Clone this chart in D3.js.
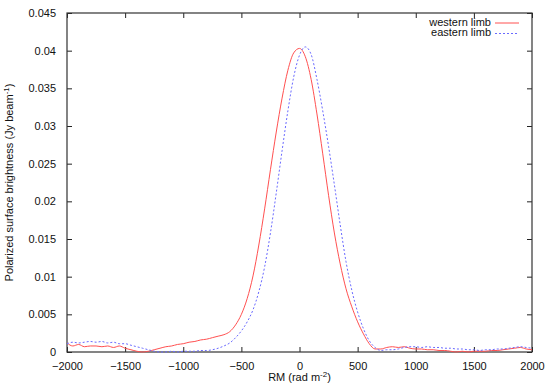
<!DOCTYPE html>
<html>
<head>
<meta charset="utf-8">
<script src="https://cdn.jsdelivr.net/npm/d3@7"></script>
<style>
  body { margin: 0; background: #fff; }
  svg text { font-family: "Liberation Sans", Arial, sans-serif; }
</style>
</head>
<body>
<script>
// RM grid, rad m^-2
const rm = d3.range(-2000, 2001, 50);

// western limb (red, solid)
const western = [
  0.0012, 0.0008, 0.0010, 0.0007, 0.0008, 0.0008, 0.0007, 0.0008, 0.0006, 0.0008,
  0.0005, 0.0003, 0.0001, 0.0000, 0.0001, 0.0003, 0.0005, 0.0007, 0.0008, 0.0010,
  0.0011, 0.0013, 0.0014, 0.0016, 0.0017, 0.0019, 0.0021, 0.0023, 0.0027, 0.0036,
  0.0050, 0.0071, 0.0101, 0.0142, 0.0190, 0.0242, 0.0292, 0.0337, 0.0374, 0.0397,
  0.0403, 0.0392, 0.0362, 0.0316, 0.0263, 0.0208, 0.0158, 0.0117, 0.0084, 0.0060,
  0.0040, 0.0024, 0.0011, 0.0004, 0.0004, 0.0006, 0.0007, 0.0006, 0.0007, 0.0005,
  0.0004, 0.0004, 0.0003, 0.0003, 0.0002, 0.0002, 0.0001, 0.0000, 0.0001, 0.0000,
  0.0001, 0.0001, 0.0001, 0.0002, 0.0002, 0.0003, 0.0004, 0.0005, 0.0006, 0.0004,
  0.0003
];

// eastern limb (blue, dotted)
const eastern = [
  0.0011, 0.0013, 0.0012, 0.0013, 0.0014, 0.0013, 0.0014, 0.0012, 0.0013, 0.0011,
  0.0011, 0.0009, 0.0007, 0.0005, 0.0003, 0.0001, 0.0000, 0.0000, 0.0001, 0.0000,
  0.0001, 0.0001, 0.0001, 0.0002, 0.0002, 0.0003, 0.0005, 0.0008, 0.0012, 0.0019,
  0.0028, 0.0040, 0.0056, 0.0080, 0.0113, 0.0158, 0.0211, 0.0267, 0.0320, 0.0365,
  0.0394, 0.0405, 0.0395, 0.0362, 0.0320, 0.0273, 0.0222, 0.0169, 0.0120, 0.0082,
  0.0053, 0.0031, 0.0015, 0.0006, 0.0002, 0.0003, 0.0003, 0.0004, 0.0006, 0.0007,
  0.0007, 0.0006, 0.0007, 0.0006, 0.0006, 0.0005, 0.0005, 0.0004, 0.0004, 0.0003,
  0.0003, 0.0002, 0.0003, 0.0003, 0.0004, 0.0004, 0.0005, 0.0006, 0.0007, 0.0006,
  0.0005
];

const xTicks = [-2000, -1500, -1000, -500, 0, 500, 1000, 1500, 2000];
const yTicks = [0, 0.005, 0.01, 0.015, 0.02, 0.025, 0.03, 0.035, 0.04, 0.045];
const seriesNames = ["western limb", "eastern limb"];
const seriesColors = ["#ff5050", "#6a6aff"];

const width = 550, height = 385;
const plotLeft = 67, plotRight = 532, plotTop = 13, plotBottom = 352;

const svg = d3.select("body").append("svg")
  .attr("width", width)
  .attr("height", height);

const x = d3.scaleLinear().domain([-2000, 2000]).range([plotLeft, plotRight]);
const y = d3.scaleLinear().domain([0, 0.045]).range([plotBottom, plotTop]);

// ticks, mirrored on all four sides, pointing in
const tickLen = 5;
const bottomAxis = svg.append("g").attr("transform", `translate(0,${plotBottom})`)
  .call(d3.axisBottom(x).tickValues(xTicks).tickSizeInner(-tickLen).tickSizeOuter(0).tickPadding(10).tickFormat(d3.format("d")));
const topAxis = svg.append("g").attr("transform", `translate(0,${plotTop})`)
  .call(d3.axisTop(x).tickValues(xTicks).tickSizeInner(-tickLen).tickSizeOuter(0).tickFormat(""));
const leftAxis = svg.append("g").attr("transform", `translate(${plotLeft},0)`)
  .call(d3.axisLeft(y).tickValues(yTicks).tickSizeInner(-tickLen).tickSizeOuter(0).tickPadding(11).tickFormat(d => d === 0 ? "0" : String(+d.toFixed(3))));
const rightAxis = svg.append("g").attr("transform", `translate(${plotRight},0)`)
  .call(d3.axisRight(y).tickValues(yTicks).tickSizeInner(-tickLen).tickSizeOuter(0).tickFormat(""));

[bottomAxis, topAxis, leftAxis, rightAxis].forEach(g => {
  g.select(".domain").remove();
  g.selectAll(".tick line").attr("stroke", "#222");
  g.selectAll(".tick text").attr("font-size", "11px").attr("fill", "#111")
    .attr("font-family", "'Liberation Sans', Arial, sans-serif");
});

// border
svg.append("rect")
  .attr("x", plotLeft).attr("y", plotTop)
  .attr("width", plotRight - plotLeft).attr("height", plotBottom - plotTop)
  .attr("fill", "none").attr("stroke", "#333").attr("stroke-width", 1.2);

// curves
const line = d3.line()
  .x((d, i) => x(rm[i]))
  .y(d => y(d))
  .curve(d3.curveMonotoneX);

svg.append("path").datum(western)
  .attr("d", line)
  .attr("fill", "none")
  .attr("stroke", seriesColors[0])
  .attr("stroke-width", 1);

svg.append("path").datum(eastern)
  .attr("d", line)
  .attr("fill", "none")
  .attr("stroke", seriesColors[1])
  .attr("stroke-width", 1)
  .attr("stroke-dasharray", "2,2");

// legend
const legend = svg.append("g");
seriesNames.forEach((name, i) => {
  const ly = 23 + i * 10.5;
  legend.append("text")
    .attr("x", 491).attr("y", ly)
    .attr("dominant-baseline", "middle")
    .attr("text-anchor", "end")
    .attr("font-size", "11px")
    .attr("fill", "#111")
    .text(name);
  legend.append("line")
    .attr("x1", 495).attr("x2", 519)
    .attr("y1", ly).attr("y2", ly)
    .attr("stroke", seriesColors[i])
    .attr("stroke-width", 1)
    .attr("stroke-dasharray", i === 0 ? null : "2,2");
});

// axis titles
const xTitle = svg.append("text")
  .attr("x", (plotLeft + plotRight) / 2).attr("y", 381)
  .attr("text-anchor", "middle")
  .attr("font-size", "11px")
  .attr("fill", "#111");
xTitle.append("tspan").text("RM (rad m");
xTitle.append("tspan").attr("font-size", "8px").attr("dy", -4).text("-2");
xTitle.append("tspan").attr("dy", 4).text(")");

const yTitle = svg.append("text")
  .attr("transform", `translate(13,${(plotTop + plotBottom) / 2}) rotate(-90)`)
  .attr("text-anchor", "middle")
  .attr("font-size", "11px")
  .attr("fill", "#111");
yTitle.append("tspan").text("Polarized surface brightness (Jy beam");
yTitle.append("tspan").attr("font-size", "8px").attr("dy", -4).text("-1");
yTitle.append("tspan").attr("dy", 4).text(")");
</script>
</body>
</html>
